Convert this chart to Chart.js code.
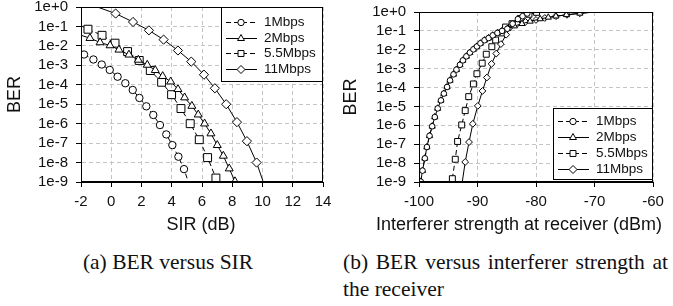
<!DOCTYPE html>
<html lang="en">
<head>
<meta charset="UTF-8">
<title>BER versus SIR and interferer strength</title>
<script src="https://cdn.jsdelivr.net/npm/chart.js@4"></script>
<style>
    body { margin: 0; background: #fff; }
    .wrap { position: relative; width: 673px; height: 306px; overflow: hidden; }
    .panel { position: absolute; top: 0; }
    .panel canvas { display: block; }
    .caption {
        position: absolute;
        top: 249px;
        font-family: "Liberation Serif", "Times New Roman", serif;
        font-size: 21.5px;
        line-height: 27px;
        color: #111;
    }
    #capA { left: 5px; width: 326px; text-align: center; }
    #capB { left: 343px; width: 325px; text-align: justify; }
</style>
</head>
<body>
<div class="wrap">
    <div class="panel" style="left:0"><canvas id="sirChart" width="336" height="240"></canvas></div>
    <div class="panel" style="left:336px"><canvas id="dbmChart" width="337" height="240"></canvas></div>
    <div class="caption" id="capA">(a) BER versus SIR</div>
    <div class="caption" id="capB">(b) BER versus interferer strength at the receiver</div>
</div>

<script>
// ---- data ----
const seriesNames = ['1Mbps', '2Mbps', '5.5Mbps', '11Mbps'];
const yTickValues = [1, 1e-1, 1e-2, 1e-3, 1e-4, 1e-5, 1e-6, 1e-7, 1e-8, 1e-9];
const yTickLabels = ['1e+0', '1e-1', '1e-2', '1e-3', '1e-4', '1e-5', '1e-6', '1e-7', '1e-8', '1e-9'];
const sirTicks = [-2, 0, 2, 4, 6, 8, 10, 12, 14];
const dbmTicks = [-100, -90, -80, -70, -60];

// (a) BER vs SIR (dB)
const sir1Mbps = [-1.80, -1.18, -0.63, -0.10, 0.42, 0.93, 1.42, 1.86, 2.32, 2.78, 3.22, 3.64, 4.04, 4.44, 4.81, 5.10];
const ber1MbpsSir = [3.6e-3, 2.0e-3, 1.1e-3, 5.8e-4, 2.6e-4, 1.2e-4, 5.4e-5, 2.1e-5, 7.8e-6, 2.8e-6, 8.5e-7, 2.8e-7, 7.9e-8, 2.0e-8, 4.6e-9, 1e-9];
const sir2Mbps = [-2, -1.41, -0.74, -0.08, 0.51, 1.17, 1.79, 2.38, 2.91, 3.40, 3.93, 4.41, 4.85, 5.33, 5.75, 6.17, 6.59, 7.01, 7.41, 7.80, 8.18];
const ber2MbpsSir = [3.5e-2, 2.5e-2, 1.5e-2, 1.05e-2, 6.3e-3, 3.5e-3, 1.9e-3, 1.05e-3, 5.6e-4, 2.75e-4, 1.45e-4, 5.9e-5, 2.2e-5, 8.1e-6, 2.9e-6, 1.0e-6, 3.1e-7, 7.8e-8, 2.2e-8, 4.9e-9, 1.07e-9];
const sir55Mbps = [-2, -1.54, -0.61, 0.25, 1.08, 1.85, 2.58, 3.33, 3.99, 4.61, 5.22, 5.82, 6.37, 6.92, 7.02];
const ber55MbpsSir = [0.11, 7.2e-2, 3.5e-2, 1.38e-2, 5.1e-3, 1.78e-3, 5.4e-4, 1.35e-4, 3.1e-5, 6.0e-6, 1.0e-6, 1.5e-7, 1.8e-8, 1.6e-9, 1e-9];
const sir11Mbps = [-0.92, 0.29, 1.44, 2.49, 3.46, 4.41, 5.29, 6.13, 6.85, 7.60, 8.31, 8.97, 9.61, 10.05];
const ber11MbpsSir = [1, 0.46, 0.17, 6.3e-2, 2.1e-2, 5.8e-3, 1.55e-3, 3.3e-4, 6.6e-5, 1.0e-5, 1.2e-6, 1.26e-7, 1.0e-8, 1e-9];

// (b) BER vs interferer strength at receiver (dBm)
const dbm1Mbps = [-99.7, -99.4, -99.0, -98.65, -98.2, -97.75, -97.3, -96.8, -96.25, -95.75, -95.2, -94.7, -94.1, -93.6, -93.0, -92.5, -91.9, -91.3, -90.7, -90.1, -89.5, -88.8, -88.1, -87.4, -86.6, -85.8, -84.9, -84.0, -83.1, -82.3, -81.5];
const ber1MbpsDbm = [1.05e-9, 4.0e-9, 1.8e-8, 7.1e-8, 2.8e-7, 8.9e-7, 2.75e-6, 7.9e-6, 2.1e-5, 4.8e-5, 1.07e-4, 2.4e-4, 5.0e-4, 8.9e-4, 1.6e-3, 2.75e-3, 4.5e-3, 7.1e-3, 1.05e-2, 1.5e-2, 2.2e-2, 3.2e-2, 4.2e-2, 5.8e-2, 7.8e-2, 0.10, 0.13, 0.24, 0.42, 0.60, 0.83];
const dbm2Mbps = [-99.7, -99.4, -99.0, -98.65, -98.2, -97.75, -97.3, -96.8, -96.25, -95.75, -95.2, -94.7, -94.1, -93.6, -93.0, -92.5, -91.9, -91.3, -90.7, -90.1, -89.5, -88.8, -88.1, -87.4, -86.6, -85.8, -84.9, -83.7, -82.4, -81.0, -79.3, -77.9, -76.6, -74.8, -72.5, -70.0];
const ber2MbpsDbm = [1.05e-9, 4.0e-9, 1.8e-8, 7.1e-8, 2.8e-7, 8.9e-7, 2.75e-6, 7.9e-6, 2.1e-5, 4.8e-5, 1.07e-4, 2.4e-4, 5.0e-4, 8.9e-4, 1.6e-3, 2.75e-3, 4.5e-3, 7.1e-3, 1.05e-2, 1.5e-2, 2.2e-2, 3.2e-2, 4.2e-2, 5.8e-2, 7.8e-2, 0.10, 0.13, 0.18, 0.24, 0.32, 0.43, 0.52, 0.60, 0.71, 0.85, 1];
const dbm55Mbps = [-94.3, -93.8, -93.4, -92.7, -92.1, -91.5, -90.7, -90.1, -89.2, -88.5, -87.55, -86.9, -85.95, -85.2, -84.1, -82.7, -81.2, -79.9];
const ber55MbpsDbm = [1.5e-9, 1.6e-8, 1.4e-7, 1.05e-6, 6.0e-6, 3.3e-5, 1.55e-4, 5.4e-4, 1.95e-3, 5.8e-3, 1.45e-2, 3.3e-2, 7.8e-2, 0.16, 0.24, 0.45, 0.76, 0.96];
const dbm11Mbps = [-92.6, -92.1, -91.45, -90.8, -89.95, -89.15, -88.4, -87.6, -86.8, -86.0, -85.1, -84.4, -83.2, -81.8, -80.0, -78.5, -76.6, -74.7, -72.5, -70.0];
const ber11MbpsDbm = [1e-9, 1.15e-8, 1.3e-7, 1.2e-6, 1.07e-5, 6.6e-5, 3.4e-4, 1.8e-3, 6.3e-3, 2.0e-2, 6.3e-2, 0.16, 0.24, 0.30, 0.38, 0.48, 0.60, 0.71, 0.85, 1];

// ---- styling ----
const sans = '"Liberation Sans", Arial, sans-serif';
const seriesStyle = [
    { pointStyle: 'circle', dash: [5, 3] },
    { pointStyle: 'triangle', dash: [] },
    { pointStyle: 'rect', dash: [5, 3] },
    { pointStyle: 'rectRot', dash: [] }
];

const pts = (xs, ys) => xs.map((x, i) => ({ x: x, y: ys[i] }));
// points sitting on the plot frame are just where the line ends, no marker
const isLineEnd = (p, xMin) => p.y >= 1 || p.y <= 1e-9 || p.x <= xMin;

const framePlugin = {
    id: 'frame',
    afterDatasetsDraw(chart) {
        const { ctx, chartArea: a } = chart;
        ctx.save();
        ctx.strokeStyle = '#000';
        ctx.lineWidth = 1;
        ctx.strokeRect(a.left + 0.5, a.top + 0.5, a.right - a.left - 1, a.bottom - a.top - 1);
        ctx.restore();
    }
};

// x-axis title drawn by hand so a long title is not squeezed to the plot width
const xTitlePlugin = {
    id: 'xTitle',
    afterDraw(chart, args, o) {
        const { ctx, chartArea: a } = chart;
        ctx.save();
        ctx.fillStyle = '#111';
        ctx.font = '18px ' + sans;
        ctx.textAlign = 'center';
        ctx.textBaseline = 'middle';
        ctx.fillText(o.text, (a.left + a.right) / 2 + o.shift, 225);
        ctx.restore();
    }
};

const boxLegend = {
    id: 'boxLegend',
    afterDraw(chart, args, o) {
        const { ctx, chartArea: a } = chart;
        const x0 = a.right - o.width;
        const y0 = o.top != null ? a.top + o.top : a.bottom - o.bottom - o.height;
        ctx.save();
        ctx.fillStyle = '#fff';
        ctx.fillRect(x0, y0, o.width, o.height);
        ctx.strokeStyle = '#000';
        ctx.lineWidth = 1;
        ctx.strokeRect(x0 + 0.5, y0 + 0.5, o.width - 1, o.height - 1);
        ctx.font = '13.5px ' + sans;
        ctx.textBaseline = 'middle';
        chart.data.datasets.forEach((ds, i) => {
            const yy = Math.round(y0 + o.height / 2 + 1 + (i - 1.5) * 15.8) + 0.5;
            ctx.strokeStyle = '#000';
            ctx.setLineDash(ds.borderDash);
            ctx.beginPath();
            ctx.moveTo(x0 + 5, yy);
            ctx.lineTo(x0 + 36, yy);
            ctx.stroke();
            ctx.setLineDash([]);
            ctx.fillStyle = '#fff';
            Chart.helpers.drawPoint(ctx, { pointStyle: ds.pointStyle, radius: o.radii[i], rotation: 0, borderWidth: 1 }, x0 + 20, yy);
            ctx.fillStyle = '#111';
            ctx.fillText(ds.label, x0 + 43, yy);
        });
        ctx.restore();
    }
};

function makeChart(id, cfg) {
    return new Chart(document.getElementById(id), {
        type: 'line',
        data: {
            datasets: cfg.series.map((s, i) => ({
                label: seriesNames[i],
                data: pts(s[0], s[1]),
                borderColor: '#000',
                borderWidth: 1,
                borderDash: seriesStyle[i].dash,
                pointStyle: seriesStyle[i].pointStyle,
                pointRadius: c => (c.raw && isLineEnd(c.raw, cfg.xMin)) ? 0 : cfg.radii[i],
                pointBackgroundColor: '#fff',
                pointBorderColor: '#000',
                pointBorderWidth: 1,
                tension: 0,
                fill: false
            }))
        },
        options: {
            responsive: false,
            animation: false,
            events: [],
            layout: { padding: cfg.padding },
            plugins: {
                legend: { display: false },
                tooltip: { enabled: false },
                boxLegend: cfg.legend,
                xTitle: { text: cfg.xTitle, shift: cfg.xTitleShift }
            },
            scales: {
                x: {
                    type: 'linear',
                    min: cfg.xMin,
                    max: cfg.xMax,
                    afterBuildTicks: s => { s.ticks = cfg.xTicks.map(v => ({ value: v })); },
                    afterFit: s => { s.height = 58; s.paddingLeft = 0; s.paddingRight = 0; },
                    ticks: { autoSkip: false, maxRotation: 0, padding: 6, color: '#111', font: { family: sans, size: 15 }, callback: v => String(v) },
                    grid: { color: '#c4c4c4', tickColor: '#000', tickLength: 5 },
                    border: { color: '#000', width: 1, dash: [4, 3] },
                    title: { display: false }
                },
                y: {
                    type: 'logarithmic',
                    min: 1e-9,
                    max: 1,
                    afterBuildTicks: s => { s.ticks = yTickValues.map(v => ({ value: v })); },
                    afterFit: s => { s.width = cfg.yWidth; s.paddingTop = 0; s.paddingBottom = 0; },
                    ticks: { autoSkip: false, padding: 8, color: '#111', font: { family: sans, size: 15 }, callback: (v, i) => yTickLabels[i] },
                    grid: { color: '#c4c4c4', tickColor: '#000', tickLength: 5 },
                    border: { color: '#000', width: 1, dash: [4, 3] },
                    title: { display: true, text: 'BER', color: '#111', font: { family: sans, size: 18 }, padding: { top: 4, bottom: 4 } }
                }
            }
        },
        plugins: [framePlugin, boxLegend, xTitlePlugin]
    });
}

// (a)
makeChart('sirChart', {
    series: [[sir1Mbps, ber1MbpsSir], [sir2Mbps, ber2MbpsSir], [sir55Mbps, ber55MbpsSir], [sir11Mbps, ber11MbpsSir]],
    xMin: -2, xMax: 14, xTicks: sirTicks, xTitle: 'SIR (dB)', xTitleShift: -1,
    yWidth: 81,
    padding: { left: 0, right: 13, top: 7, bottom: 0 },
    radii: [3.7, 4.6, 5.6, 4.6],
    legend: { width: 102, height: 75, top: 0, radii: [3.2, 4, 4.2, 4] }
});

// (b)
makeChart('dbmChart', {
    series: [[dbm1Mbps, ber1MbpsDbm], [dbm2Mbps, ber2MbpsDbm], [dbm55Mbps, ber55MbpsDbm], [dbm11Mbps, ber11MbpsDbm]],
    xMin: -100, xMax: -60, xTicks: dbmTicks, xTitle: 'Interferer strength at receiver (dBm)', xTitleShift: -17,
    yWidth: 83,
    padding: { left: 0, right: 20, top: 12, bottom: 0 },
    radii: [2.8, 3.6, 4.2, 3.4],
    legend: { width: 100, height: 72, bottom: 2, radii: [3.2, 4, 4.2, 4] }
});
</script>
</body>
</html>
